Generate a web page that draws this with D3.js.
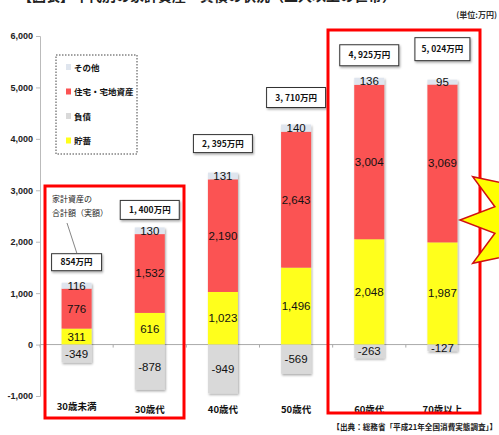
<!DOCTYPE html>
<html>
<head>
<meta charset="utf-8">
<script src="https://cdn.jsdelivr.net/npm/d3@7"></script>
<style>
  body { margin: 0; background: #fff; }
  svg { display: block; }
  text { font-family: "Noto Sans CJK JP", sans-serif; }
  .num { font-family: "Liberation Sans Narrow", "Liberation Sans", Arial, sans-serif; }
</style>
</head>
<body>
<div id="container"></div>
<script>
/* DATA */
const ages = ["30歳未満", "30歳代", "40歳代", "50歳代", "60歳代", "70歳以上"];
const savings = [311, 616, 1023, 1496, 2048, 1987];      // 貯蓄
const housing = [776, 1532, 2190, 2643, 3004, 3069];     // 住宅・宅地資産
const others = [116, 130, 131, 140, 136, 95];            // その他
const debts = [-349, -878, -949, -569, -263, -127];      // 負債
const totals = ["854万円", "1, 400万円", "2, 395万円", "3, 710万円", "4, 925万円", "5, 024万円"];
const yTicks = [-1000, 0, 1000, 2000, 3000, 4000, 5000, 6000];
const legendItems = [
  { label: "その他", key: "other" },
  { label: "住宅・宅地資産", key: "housing" },
  { label: "負債", key: "debt" },
  { label: "貯蓄", key: "savings" }
];

/* CONSTANTS */
const width = 499, height = 435;
const colors = { savings: "#ffff1a", housing: "#fb5353", other: "#dfe5ee", debt: "#d9d9d9" };
const fmt = v => d3.format(",")(v).replace("−", "-");

const svg = d3.select("#container").append("svg")
  .attr("width", width).attr("height", height);

/* SCALES */
const xScale = d3.scaleBand()
  .domain(ages)
  .range([40, 479])
  .paddingInner(0.59)
  .paddingOuter(0.295);

const yScale = d3.scaleLinear()
  .domain([-1000, 6000])
  .range([396, 36]);

// build segments for every bar
const segs = [];
ages.forEach((a, i) => {
  let base = 0;
  [["savings", savings[i]], ["housing", housing[i]], ["other", others[i]]].forEach(([k, v]) => {
    segs.push({ age: a, key: k, y0: base, y1: base + v, v: v });
    base += v;
  });
  segs.push({ age: a, key: "debt", y0: debts[i], y1: 0, v: debts[i] });
});

/* TITLE (cut off at top, as in the source image) */
svg.append("text")
  .attr("x", 18).attr("y", 1)
  .attr("font-size", 14).attr("font-weight", "bold").attr("fill", "#222")
  .text("【図表】年代別の家計資産・負債の状況（二人以上の世帯）");

svg.append("text")
  .attr("x", 497).attr("y", 18)
  .attr("text-anchor", "end")
  .attr("font-size", 8).attr("font-weight", "bold").attr("fill", "#333")
  .text("(単位:万円)");

/* Y AXIS */
const yAxis = svg.append("g")
  .attr("transform", "translate(40,0)")
  .call(d3.axisLeft(yScale).tickValues(yTicks).tickSize(4).tickFormat(fmt));
yAxis.select(".domain").attr("stroke", "#bbb");
yAxis.selectAll(".tick line").attr("stroke", "#bbb");
yAxis.selectAll(".tick text")
  .attr("class", "num")
  .attr("font-size", 9).attr("font-weight", "bold").attr("fill", "#222")
  .attr("x", -7);

/* zero line with category ticks */
svg.append("line")
  .attr("x1", 40).attr("x2", 479)
  .attr("y1", yScale(0)).attr("y2", yScale(0))
  .attr("stroke", "#aaa");
svg.selectAll("line.cat-tick")
  .data(d3.range(ages.length + 1))
  .join("line")
  .attr("class", "cat-tick")
  .attr("x1", i => 40 + i * xScale.step())
  .attr("x2", i => 40 + i * xScale.step())
  .attr("y1", yScale(0)).attr("y2", yScale(0) + 3)
  .attr("stroke", "#aaa");

/* BARS */
const defs = svg.append("defs");
const shadow = defs.append("filter").attr("id", "sh")
  .attr("x", "-10%").attr("y", "-10%").attr("width", "130%").attr("height", "130%");
shadow.append("feDropShadow")
  .attr("dx", 1).attr("dy", 1.5).attr("stdDeviation", 0.8)
  .attr("flood-color", "#000").attr("flood-opacity", 0.35);

const bars = svg.append("g").attr("filter", "url(#sh)");
bars.selectAll("rect.bar")
  .data(segs)
  .join("rect")
  .attr("class", "bar")
  .attr("x", d => xScale(d.age))
  .attr("width", xScale.bandwidth())
  .attr("y", d => yScale(Math.max(d.y0, d.y1)))
  .attr("height", d => Math.abs(yScale(d.y0) - yScale(d.y1)))
  .attr("fill", d => colors[d.key]);

svg.selectAll("text.bar-label")
  .data(segs)
  .join("text")
  .attr("class", "bar-label num")
  .attr("x", d => xScale(d.age) + xScale.bandwidth() / 2)
  .attr("y", d => (yScale(d.y0) + yScale(d.y1)) / 2 + 4)
  .attr("text-anchor", "middle")
  .attr("font-size", 11.5)
  .attr("fill", "#111")
  .text(d => fmt(d.v));

/* TOTAL BOXES */
const boxW = [50, 59, 59, 59, 59, 55], boxH = [17, 19, 18, 20, 21, 23];
const boxGap = [12, 8, 20, 17, 12, 19];
const boxes = svg.selectAll("g.total")
  .data(ages)
  .join("g")
  .attr("class", "total")
  .attr("transform", (a, i) => {
    const top = yScale(savings[i] + housing[i] + others[i]);
    const cx = xScale(a) + xScale.bandwidth() / 2;
    return `translate(${cx},${top - boxGap[i] - boxH[i]})`;
  });
boxes.append("rect")
  .attr("x", (a, i) => -boxW[i] / 2)
  .attr("width", (a, i) => boxW[i])
  .attr("height", (a, i) => boxH[i])
  .attr("fill", "#fff")
  .attr("stroke", "#333")
  .attr("filter", "url(#sh)");
boxes.append("text")
  .attr("y", (a, i) => boxH[i] / 2 + 3)
  .attr("text-anchor", "middle")
  .attr("font-size", 8.5).attr("font-weight", "bold").attr("fill", "#111")
  .text((a, i) => totals[i]);

/* ANNOTATION */
svg.append("text")
  .attr("x", 52).attr("y", 202)
  .attr("font-size", 8).attr("fill", "#222")
  .selectAll("tspan")
  .data(["家計資産の", "合計額（実額）"])
  .join("tspan")
  .attr("x", 52)
  .attr("dy", (d, i) => i ? 14 : 0)
  .text(d => d);
svg.append("line")
  .attr("x1", 67).attr("y1", 223)
  .attr("x2", 77).attr("y2", yScale(savings[0] + housing[0] + others[0]) - boxGap[0] - boxH[0])
  .attr("stroke", "#666").attr("stroke-width", 0.8);

/* CATEGORY LABELS */
svg.selectAll("text.cat")
  .data(ages)
  .join("text")
  .attr("class", "cat")
  .attr("x", a => xScale(a) + xScale.bandwidth() / 2)
  .attr("y", (a, i) => i === 0 ? 410 : 413)
  .attr("text-anchor", "middle")
  .attr("font-size", 9.5).attr("font-weight", "bold").attr("fill", "#111")
  .text(a => a);

/* LEGEND */
const legend = svg.append("g");
legend.append("rect")
  .attr("x", 56).attr("y", 55).attr("width", 81).attr("height", 99)
  .attr("fill", "none").attr("stroke", "#444").attr("stroke-dasharray", "1.5,1.5");
const li = legend.selectAll("g.li")
  .data(legendItems)
  .join("g")
  .attr("class", "li")
  .attr("transform", (d, i) => `translate(66,${67 + i * 24.5})`);
li.append("rect")
  .attr("x", 0).attr("y", -3).attr("width", 5).attr("height", 6)
  .attr("fill", d => colors[d.key]);
li.append("text")
  .attr("x", 8).attr("y", 3.5)
  .attr("font-size", 8.5).attr("font-weight", "bold").attr("fill", "#111")
  .text(d => d.label);

/* RED HIGHLIGHT FRAMES */
svg.append("rect")
  .attr("x", 45).attr("y", 186).attr("width", 139).attr("height", 232)
  .attr("fill", "none").attr("stroke", "#ff0000").attr("stroke-width", 3);
svg.append("rect")
  .attr("x", 328).attr("y", 30).attr("width", 152).attr("height", 383)
  .attr("fill", "none").attr("stroke", "#ff0000").attr("stroke-width", 3);

/* STARBURST */
const cx = 540, cy = 220, rOut = 80, rIn = 47, n = 11;
const pts = d3.range(n * 2).map(k => {
  const ang = Math.PI + k * Math.PI / n;
  const r = k % 2 ? rIn : rOut;
  return [cx + r * Math.cos(ang), cy + r * Math.sin(ang)];
});
svg.append("polygon")
  .attr("points", pts.map(p => p.join(",")).join(" "))
  .attr("fill", "#ffff00").attr("stroke", "#d01010").attr("stroke-width", 1.5);

/* SOURCE */
svg.append("text")
  .attr("x", 497).attr("y", 430)
  .attr("text-anchor", "end")
  .attr("font-size", 7.6).attr("font-weight", "bold").attr("fill", "#222")
  .text("【出典：総務省「平成21年全国消費実態調査」】");
</script>
</body>
</html>
